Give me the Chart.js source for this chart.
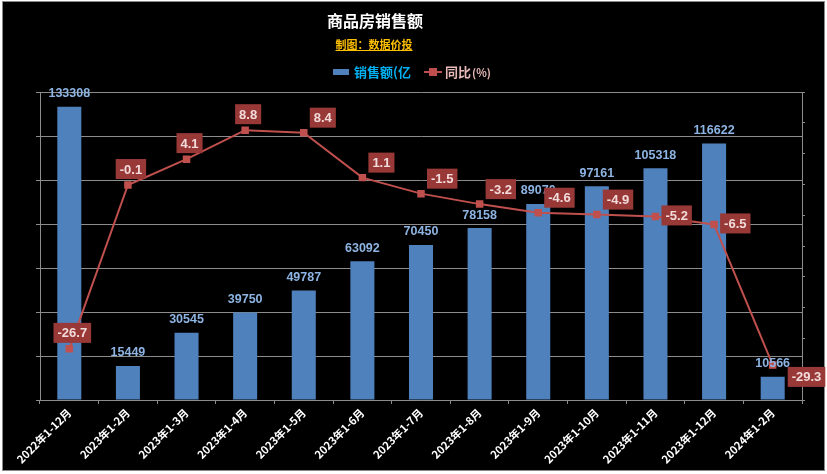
<!DOCTYPE html>
<html lang="zh-CN">
<head>
    <meta charset="UTF-8">
    <title>商品房销售额</title>
    <script src="https://cdn.jsdelivr.net/npm/chart.js"></script>
    <style>
        html, body { margin: 0; padding: 0; background: #fff; }
        canvas { display: block; }
    </style>
</head>
<body>
    <canvas id="salesChart" width="827" height="474"></canvas>

    <script>
        // 数据
        const categories = ['2022年1-12月', '2023年1-2月', '2023年1-3月', '2023年1-4月', '2023年1-5月', '2023年1-6月',
            '2023年1-7月', '2023年1-8月', '2023年1-9月', '2023年1-10月', '2023年1-11月', '2023年1-12月', '2024年1-2月'];
        const salesValues = [133308, 15449, 30545, 39750, 49787, 63092, 70450, 78158, 89070, 97161, 105318, 116622, 10566];
        const yoyValues = [-26.7, -0.1, 4.1, 8.8, 8.4, 1.1, -1.5, -3.2, -4.6, -4.9, -5.2, -6.5, -29.3];
        const salesAxis = { min: 0, max: 140000, step: 20000 };
        const yoyAxis = { min: -35, max: 15, step: 5 };

        const CJK = '"Noto Sans CJK SC", "Noto Sans", sans-serif';
        const NUM = '"Liberation Sans", Arial, sans-serif';
        const GRID = '#8c8c8c';

        // 背景 + 标题 + 图例
        const frame = {
            id: 'frame',
            beforeDraw(chart) {
                const ctx = chart.ctx;
                ctx.save();
                ctx.fillStyle = '#fff';
                ctx.fillRect(0, 0, chart.width, chart.height);
                ctx.fillStyle = '#000';
                ctx.fillRect(2, 2, 822, 468);
                ctx.strokeStyle = '#8a8a8a';
                ctx.lineWidth = 1;
                ctx.strokeRect(2.5, 1.5, 822, 469);
                ctx.restore();
            },
            afterDraw(chart) {
                const ctx = chart.ctx;
                ctx.save();
                ctx.textBaseline = 'middle';
                ctx.textAlign = 'center';
                ctx.fillStyle = '#fff';
                ctx.font = 'bold 16px ' + CJK;
                ctx.fillText('商品房销售额', 375, 21);

                ctx.fillStyle = '#FFC000';
                ctx.font = 'bold 11px ' + CJK;
                ctx.fillText('制图：数据价投', 374, 45);
                const w = ctx.measureText('制图：数据价投').width;
                ctx.fillRect(374 - w / 2, 50, w, 1);

                // 图例
                ctx.textAlign = 'left';
                ctx.fillStyle = '#4F81BD';
                ctx.fillRect(333, 69, 16, 6);
                ctx.fillStyle = '#00B0F0';
                ctx.font = 'bold 13px ' + CJK;
                ctx.fillText(chart.data.datasets[0].label, 354, 72);

                ctx.strokeStyle = '#C0504D';
                ctx.lineWidth = 2;
                ctx.beginPath();
                ctx.moveTo(424, 72);
                ctx.lineTo(442, 72);
                ctx.stroke();
                ctx.fillStyle = '#C0504D';
                ctx.fillRect(429, 68, 8, 8);
                ctx.fillStyle = '#E6B9B8';
                ctx.font = 'bold 13px ' + CJK;
                ctx.fillText('同比', 445, 72);
                ctx.font = 'bold 11px ' + CJK;
                ctx.fillText('(%)', 472, 73);
                ctx.restore();
            }
        };

        // 数据标签
        const valueLabels = {
            id: 'valueLabels',
            afterDatasetsDraw(chart, args, opts) {
                const ctx = chart.ctx;
                ctx.save();
                ctx.textBaseline = 'middle';

                // 柱子数值
                ctx.textAlign = 'center';
                ctx.fillStyle = '#8DB4E2';
                ctx.font = 'bold 12.5px ' + NUM;
                chart.getDatasetMeta(0).data.forEach((bar, i) => {
                    ctx.fillText(String(salesValues[i]), bar.x, bar.y - 13);
                });

                // 同比数值（带底框）
                ctx.font = 'bold 13px ' + NUM;
                chart.getDatasetMeta(1).data.forEach((pt, i) => {
                    const text = yoyValues[i].toFixed(1);
                    const tw = ctx.measureText(text).width;
                    const bw = tw + 8, bh = 20;
                    let left, cy;
                    switch (opts.placement[i]) {
                        case 'above': left = pt.x + 3 - bw / 2; cy = pt.y - 16; break;
                        case 'aboveRight': left = pt.x + 6; cy = pt.y - 15; break;
                        case 'right': left = pt.x + 6; cy = pt.y - 1; break;
                        default: left = pt.x + 15; cy = pt.y + 12;
                    }
                    ctx.fillStyle = '#993937';
                    ctx.fillRect(left, cy - bh / 2, bw, bh);
                    ctx.fillStyle = '#F2DCDB';
                    ctx.textAlign = 'center';
                    ctx.fillText(text, left + bw / 2, cy + 1);
                });
                ctx.restore();
            }
        };

        new Chart(document.getElementById('salesChart'), {
            data: {
                labels: categories,
                datasets: [{
                    type: 'bar',
                    label: '销售额(亿',
                    data: salesValues,
                    yAxisID: 'y',
                    backgroundColor: '#4F81BD',
                    categoryPercentage: 1,
                    barPercentage: 0.41,
                    order: 2
                }, {
                    type: 'line',
                    label: '同比(%)',
                    data: yoyValues,
                    yAxisID: 'y1',
                    borderColor: '#C0504D',
                    backgroundColor: '#C0504D',
                    borderWidth: 2,
                    pointStyle: 'rect',
                    pointRadius: 5.3,
                    pointBorderWidth: 0,
                    tension: 0,
                    order: 1
                }]
            },
            options: {
                responsive: false,
                animation: false,
                devicePixelRatio: 1,
                layout: { padding: { top: 92, left: 0, right: 0, bottom: 0 } },
                plugins: {
                    legend: { display: false },
                    title: { display: false },
                    tooltip: { enabled: false },
                    valueLabels: {
                        placement: ['above', 'above', 'above', 'above', 'aboveRight', 'aboveRight', 'aboveRight',
                            'aboveRight', 'aboveRight', 'aboveRight', 'right', 'right', 'belowRight']
                    }
                },
                scales: {
                    x: {
                        offset: true,
                        grid: { display: true, drawOnChartArea: false, drawTicks: true, tickLength: 4, offset: true, color: GRID },
                        border: { color: GRID },
                        ticks: {
                            color: '#fff',
                            font: { family: CJK, size: 11, weight: 'bold' },
                            minRotation: 45,
                            maxRotation: 45,
                            autoSkip: false,
                            padding: 2
                        },
                        afterFit(scale) { scale.height = 74; }
                    },
                    y: {
                        position: 'left',
                        min: salesAxis.min,
                        max: salesAxis.max,
                        ticks: { stepSize: salesAxis.step, display: false },
                        grid: { color: GRID, tickLength: 4 },
                        border: { color: GRID },
                        afterFit(scale) { scale.width = 40; }
                    },
                    y1: {
                        position: 'right',
                        min: yoyAxis.min,
                        max: yoyAxis.max,
                        ticks: { stepSize: yoyAxis.step, display: false },
                        grid: { drawOnChartArea: false, color: GRID, tickLength: 3 },
                        border: { color: GRID },
                        afterFit(scale) { scale.width = 25; }
                    }
                }
            },
            plugins: [frame, valueLabels]
        });
    </script>
</body>
</html>
